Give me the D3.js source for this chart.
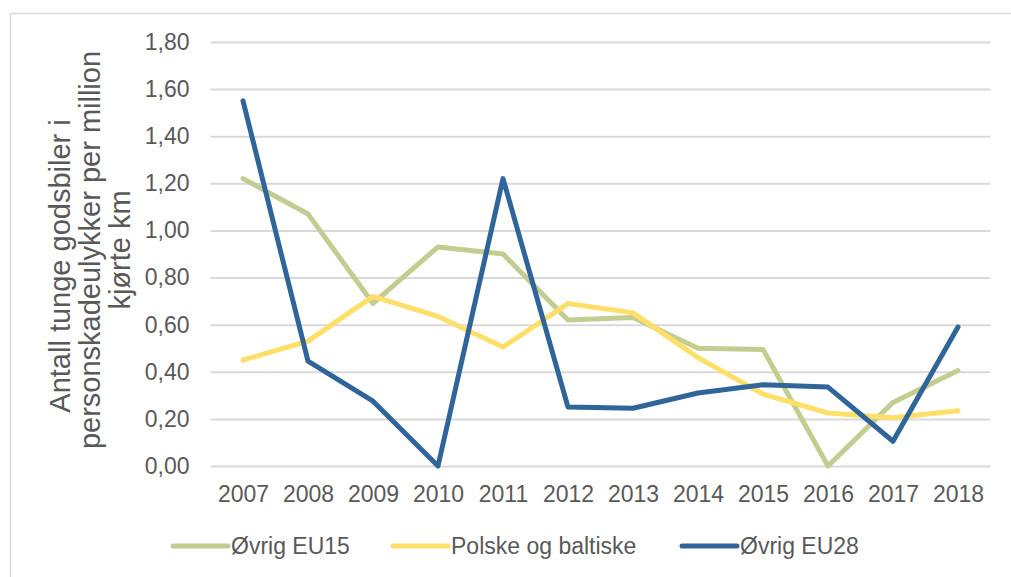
<!DOCTYPE html>
<html>
<head>
<meta charset="utf-8">
<script src="https://cdn.jsdelivr.net/npm/d3@7"></script>
<style>
  body { margin: 0; background: #fff; }
  svg text { font-family: "Liberation Sans", Arial, sans-serif; fill: #595959; }
</style>
</head>
<body>
<div id="chart"></div>
<script>
const years = ['2007', '2008', '2009', '2010', '2011', '2012', '2013', '2014', '2015', '2016', '2017', '2018'];
const ovrigEU15 = [1.22, 1.07, 0.69, 0.93, 0.90, 0.62, 0.63, 0.50, 0.495, 0.00, 0.27, 0.405];
const polskeBaltiske = [0.45, 0.53, 0.72, 0.635, 0.505, 0.69, 0.65, 0.46, 0.305, 0.225, 0.205, 0.235];
const ovrigEU28 = [1.55, 0.445, 0.275, 0.00, 1.22, 0.25, 0.245, 0.31, 0.345, 0.335, 0.105, 0.59];
const yTicks = [0, 0.2, 0.4, 0.6, 0.8, 1.0, 1.2, 1.4, 1.6, 1.8];
const seriesNames = ['Øvrig EU15', 'Polske og baltiske', 'Øvrig EU28'];
const seriesColors = ['#c4cd91', '#ffdf68', '#30659a'];
const titleLines = ['Antall tunge godsbiler i', 'personskadeulykker per million', 'kjørte km'];

const width = 1011;
const height = 577;

const svg = d3.select('#chart')
  .append('svg')
  .attr('width', width)
  .attr('height', height);

// outer frame (clipped on right and bottom like the screenshot)
svg.append('path')
  .attr('d', 'M10.5,' + height + ' V13.5 H' + width)
  .attr('fill', 'none')
  .attr('stroke', '#d9d9d9')
  .attr('stroke-width', 1.5);

const xScale = d3.scalePoint()
  .domain(years)
  .range([210.5, 990.5])
  .padding(0.5);

const yScale = d3.scaleLinear()
  .domain([0, 1.8])
  .range([466, 42]);

// gridlines
const yAxis = d3.axisLeft(yScale)
  .tickValues(yTicks)
  .tickSize(-(990.5 - 210.5))
  .tickPadding(21)
  .tickFormat(d => d3.format('.2f')(d).replace('.', ','));

const gy = svg.append('g')
  .attr('transform', 'translate(210.5,0)')
  .call(yAxis);
gy.select('.domain').remove();
gy.selectAll('.tick line').attr('stroke', '#d9d9d9').attr('stroke-width', 2);
gy.selectAll('.tick text').attr('font-size', 23).attr('fill', '#595959');

const xAxis = d3.axisBottom(xScale).tickSize(0).tickPadding(20);
const gx = svg.append('g')
  .attr('transform', 'translate(0,466)')
  .call(xAxis);
gx.select('.domain').remove();
gx.selectAll('.tick text').attr('font-size', 23).attr('fill', '#595959');

// lines
const allSeries = [ovrigEU15, polskeBaltiske, ovrigEU28];
const line = d3.line()
  .x((d, i) => xScale(years[i]))
  .y(d => yScale(d));

svg.selectAll('.series')
  .data(allSeries)
  .enter()
  .append('path')
  .attr('class', 'series')
  .attr('d', d => line(d))
  .attr('fill', 'none')
  .attr('stroke', (d, i) => seriesColors[i])
  .attr('stroke-width', 5)
  .attr('stroke-linejoin', 'round')
  .attr('stroke-linecap', 'round');

// y-axis title
const title = svg.append('text')
  .attr('transform', 'translate(60,250) rotate(-90)')
  .attr('text-anchor', 'middle')
  .attr('font-size', 29);
title.selectAll('tspan')
  .data(titleLines)
  .enter()
  .append('tspan')
  .attr('x', (d, i) => i === 0 ? -16 : 0)
  .attr('dy', (d, i) => i === 0 ? '0.35em' : 30)
  .text(d => d);

// legend
const legendX = [173, 393, 682];
const legend = svg.selectAll('.legend')
  .data(seriesNames)
  .enter()
  .append('g')
  .attr('class', 'legend')
  .attr('transform', (d, i) => 'translate(' + legendX[i] + ',546)');

legend.append('line')
  .attr('x1', 0)
  .attr('x2', 55)
  .attr('stroke', (d, i) => seriesColors[i])
  .attr('stroke-width', 5)
  .attr('stroke-linecap', 'round');

legend.append('text')
  .attr('x', 58)
  .attr('dy', '0.35em')
  .attr('font-size', 23)
  .text(d => d);
</script>
</body>
</html>
